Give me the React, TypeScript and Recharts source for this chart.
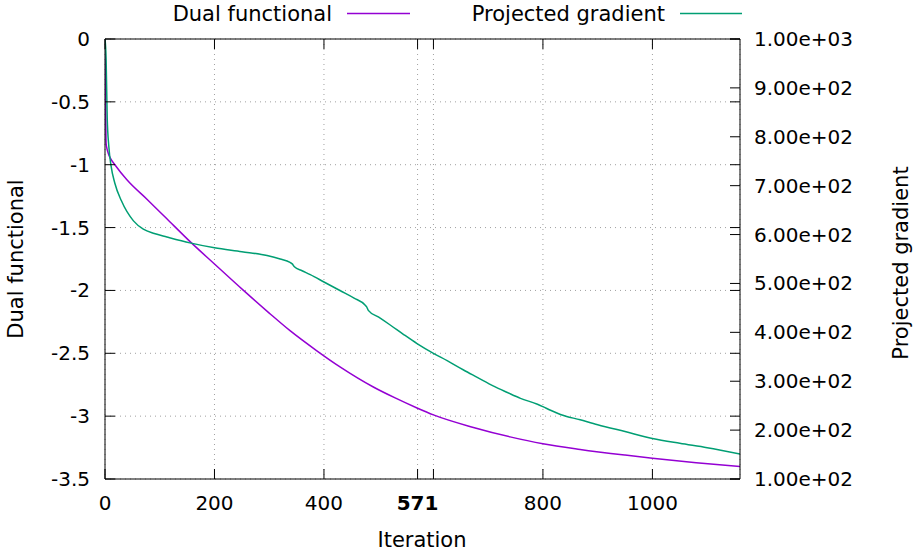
import {
  LineChart,
  Line,
  XAxis,
  YAxis,
  CartesianGrid,
  ReferenceLine,
} from 'recharts';

// Dual functional (left axis)
const dualIter = [0, 1, 2, 4, 6, 10, 18, 40, 78, 113, 155, 200, 253, 300, 338, 387, 430, 491, 530, 570, 600, 673, 740, 800, 868, 950, 1000, 1080, 1160];
const dualValue = [0, -0.45, -0.83, -0.88, -0.91, -0.95, -1.0, -1.12, -1.28, -1.43, -1.61, -1.79, -2.0, -2.18, -2.32, -2.48, -2.61, -2.77, -2.855, -2.935, -2.99, -3.09, -3.165, -3.22, -3.265, -3.31, -3.335, -3.37, -3.4];

// Projected gradient (right axis)
const gradIter = [0, 2, 4, 7, 11, 18, 30, 52, 70, 90, 113, 155, 200, 250, 296, 320, 338, 342, 346, 360, 375, 400, 430, 455, 475, 478, 481, 500, 521, 545, 570, 600, 625, 655, 680, 710, 735, 759, 790, 800, 815, 832, 868, 900, 950, 1000, 1050, 1100, 1160];
const gradValue = [1000, 960, 840, 780, 741, 705, 669, 628, 611, 602, 595, 583, 573, 565, 557, 550, 543, 540, 534, 526, 518, 503, 485, 470, 456, 452, 445, 431, 415, 396, 377, 357, 342, 323, 308, 290, 277, 265, 253, 248, 240, 232, 221, 211, 197, 183, 173, 164, 151];

const xTicks = [0, 200, 400, 571, 600, 800, 1000];
const xHidden = 600;
const xMarked = 571;
const leftTicks = [0, -0.5, -1, -1.5, -2, -2.5, -3, -3.5];
const rightTicks = [100, 200, 300, 400, 500, 600, 700, 800, 900, 1000];

const dualData = dualIter.map((it, i) => ({ iter: it, dual: dualValue[i] }));
const gradData = gradIter.map((it, i) => ({ iter: it, grad: gradValue[i] }));

const FONT = '"DejaVu Sans", sans-serif';
const PURPLE = '#9400d3';
const GREEN = '#009e73';
const PLOT_TOP = 39;
const PLOT_RIGHT = 740;
const TICK = 10;

const fmtExp = (v: number) => {
  const [m, e] = v.toExponential(2).split('e');
  const n = parseInt(e, 10);
  return `${m}e${n < 0 ? '-' : '+'}${String(Math.abs(n)).padStart(2, '0')}`;
};

const XTick = (props: any) => {
  const { x, y, payload } = props;
  const v = payload.value;
  return (
    <g>
      <line x1={x} y1={y} x2={x} y2={y - TICK} stroke="#000" />
      <line x1={x} y1={PLOT_TOP} x2={x} y2={PLOT_TOP + TICK} stroke="#000" />
      {v !== xHidden && (
        <text
          x={x}
          y={y + 31}
          textAnchor="middle"
          fontFamily={FONT}
          fontSize={20}
          fontWeight={v === xMarked ? 'bold' : 'normal'}
          fill="#000"
        >
          {v}
        </text>
      )}
    </g>
  );
};

const LeftTick = (props: any) => {
  const { x, y, payload } = props;
  return (
    <g>
      <line x1={x} y1={y} x2={x + TICK} y2={y} stroke="#000" />
      <line x1={PLOT_RIGHT} y1={y} x2={PLOT_RIGHT - TICK} y2={y} stroke="#000" />
      <text x={x - 15} y={y + 7} textAnchor="end" fontFamily={FONT} fontSize={20} fill="#000">
        {String(payload.value)}
      </text>
    </g>
  );
};

const RightTick = (props: any) => {
  const { x, y, payload } = props;
  return (
    <g>
      <line x1={x} y1={y} x2={x - TICK} y2={y} stroke="#000" />
      <text x={x + 14} y={y + 7} textAnchor="start" fontFamily={FONT} fontSize={20} fill="#000">
        {fmtExp(payload.value)}
      </text>
    </g>
  );
};

export default function App() {
  return (
    <div style={{ position: 'absolute', left: 0, top: 0, width: 914, height: 555, background: '#fff' }}>
      <LineChart width={914} height={555} margin={{ top: PLOT_TOP, right: 0, bottom: 0, left: 0 }}>
        <CartesianGrid yAxisId="left" stroke="#a0a0a0" strokeDasharray="1 4" />
        <XAxis
          dataKey="iter"
          type="number"
          domain={[0, 1160]}
          ticks={xTicks}
          interval={0}
          height={76}
          tickSize={0}
          tickMargin={0}
          tickLine={false}
          axisLine={{ stroke: '#000' }}
          tick={<XTick />}
          allowDataOverflow
        />
        <YAxis
          yAxisId="left"
          type="number"
          domain={[-3.5, 0]}
          ticks={leftTicks}
          interval={0}
          width={105}
          tickSize={0}
          tickMargin={0}
          tickLine={false}
          axisLine={{ stroke: '#000' }}
          tick={<LeftTick />}
          allowDataOverflow
        />
        <YAxis
          yAxisId="right"
          orientation="right"
          type="number"
          domain={[100, 1000]}
          ticks={rightTicks}
          interval={0}
          width={174}
          tickSize={0}
          tickMargin={0}
          tickLine={false}
          axisLine={{ stroke: '#000' }}
          tick={<RightTick />}
          allowDataOverflow
        />
        <ReferenceLine yAxisId="left" y={0} stroke="#000" />
        <Line
          yAxisId="left"
          data={dualData}
          dataKey="dual"
          type="monotone"
          stroke={PURPLE}
          strokeWidth={1.5}
          dot={false}
          isAnimationActive={false}
        />
        <Line
          yAxisId="right"
          data={gradData}
          dataKey="grad"
          type="monotone"
          stroke={GREEN}
          strokeWidth={1.5}
          dot={false}
          isAnimationActive={false}
        />
      </LineChart>
      <svg
        width={914}
        height={555}
        style={{ position: 'absolute', left: 0, top: 0, pointerEvents: 'none' }}
      >
        <text x={332} y={21} textAnchor="end" fontFamily={FONT} fontSize={21} fill="#000">
          Dual functional
        </text>
        <line x1={347} y1={13.5} x2={410} y2={13.5} stroke={PURPLE} strokeWidth={1.5} />
        <text x={665} y={21} textAnchor="end" fontFamily={FONT} fontSize={21} fill="#000">
          Projected gradient
        </text>
        <line x1={680} y1={13.5} x2={742} y2={13.5} stroke={GREEN} strokeWidth={1.5} />
        <text
          x={23}
          y={259}
          textAnchor="middle"
          transform="rotate(-90, 23, 259)"
          fontFamily={FONT}
          fontSize={21}
          fill="#000"
        >
          Dual functional
        </text>
        <text
          x={908}
          y={263}
          textAnchor="middle"
          transform="rotate(-90, 908, 263)"
          fontFamily={FONT}
          fontSize={21}
          fill="#000"
        >
          Projected gradient
        </text>
        <text x={422} y={547} textAnchor="middle" fontFamily={FONT} fontSize={21} fill="#000">
          Iteration
        </text>
      </svg>
    </div>
  );
}
